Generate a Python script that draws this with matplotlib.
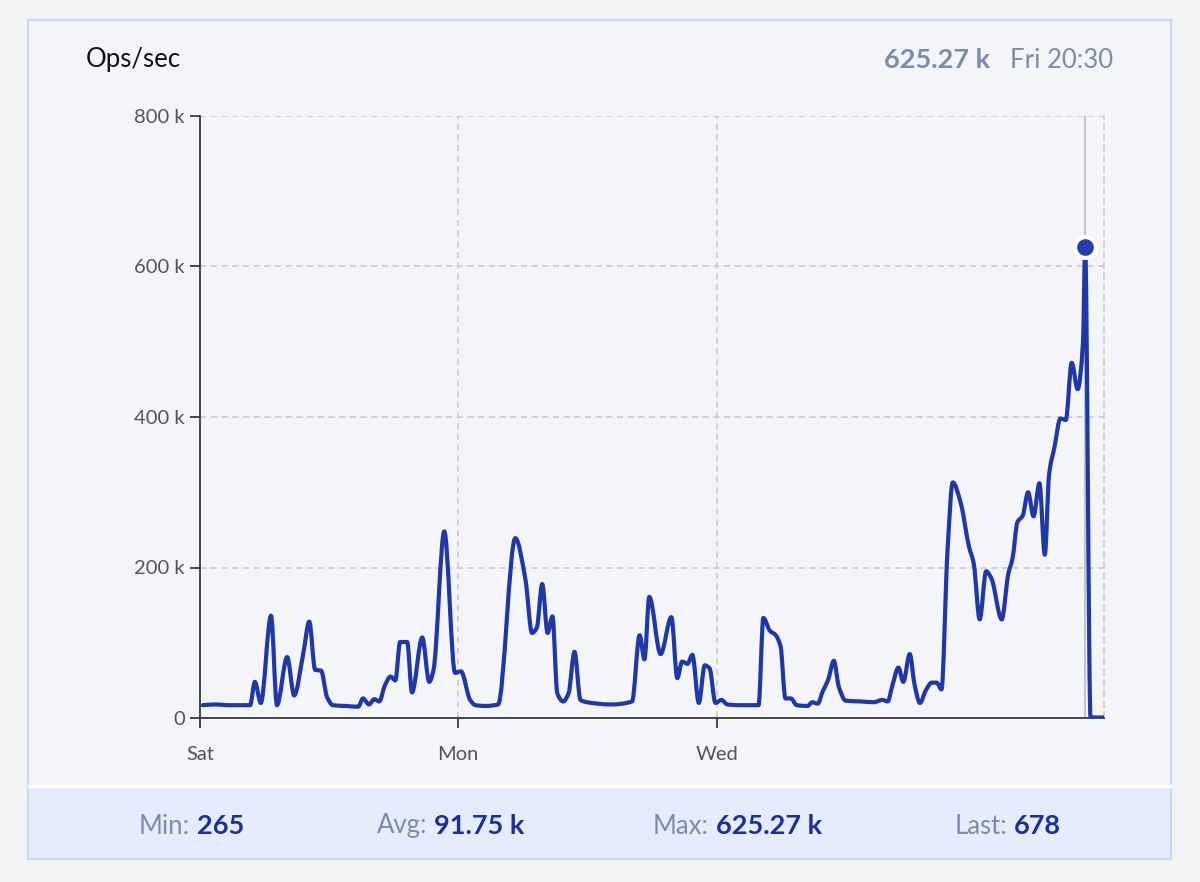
import matplotlib
matplotlib.use("Agg")
import numpy as np
import matplotlib.pyplot as plt
from matplotlib.patches import Rectangle, PathPatch
from matplotlib.lines import Line2D
from matplotlib.path import Path

# hours since Sat 00:00, values in thousands of ops/sec
hours = [0.5, 2.8, 5.6, 9.3, 10.2, 11.3, 13.2, 14.3, 16.2, 17.5, 19.2, 20.3, 21.4, 22.5,
         23.6, 24.7, 27.0, 29.4, 30.3, 31.4, 32.4, 33.3, 34.4, 35.4, 36.3, 37.2, 38.5,
         39.4, 41.3, 42.6, 43.4, 45.4, 47.4, 48.5, 50.2, 51.2, 53.2, 55.4, 58.6, 60.5,
         61.7, 62.6, 63.6, 64.6, 65.5, 66.4, 67.5, 68.5, 69.6, 70.7, 71.9, 76.3, 80.3,
         81.7, 82.6, 83.5, 85.6, 87.6, 88.7, 89.6, 90.6, 91.5, 92.7, 93.8, 94.7, 95.8,
         96.9, 98.0, 100.5, 103.8, 104.7, 105.9, 107.0, 107.9, 108.8, 109.8, 110.9,
         112.9, 113.8, 114.8, 115.7, 116.7, 117.8, 118.7, 120.0, 122.8, 125.2, 126.8,
         127.8, 128.7, 129.8, 130.7, 131.9, 132.8, 133.8, 134.9, 136.0, 136.9, 137.8,
         138.9, 139.9, 141.4, 142.9, 143.8, 144.9, 146.1, 147.1, 149.0, 150.2, 151.0,
         151.9, 152.9, 153.9, 154.9, 156.0, 157.0, 157.8, 158.8, 159.9, 160.9, 162.0,
         163.1, 164.1, 164.5, 165.5, 168.0]
ops_k = [17, 18, 17, 17, 48, 20, 136, 17, 81, 30, 86, 128, 64, 63,
         28, 17, 16, 15, 26, 18, 25, 22, 44, 55, 50, 101, 101,
         34, 107, 48, 64, 248, 60, 62, 24, 17, 16, 18, 239, 183,
         113, 120, 178, 113, 135, 33, 22, 33, 88, 24, 21, 18, 22,
         110, 78, 161, 85, 134, 53, 75, 72, 84, 20, 70, 66, 20,
         24, 18, 17, 17, 133, 116, 110, 95, 26, 26, 17,
         16, 21, 19, 35, 50, 76, 42, 23, 22, 21, 24,
         22, 44, 67, 48, 85, 44, 20, 37, 47, 47, 38,
         220, 313, 285, 228, 205, 131, 195, 185, 131, 191, 212,
         260, 269, 300, 268, 312, 217, 324, 360, 398, 396, 472,
         437, 500, 625.27, 0.68, 0.68]

peak_hour = 164.5
peak_value = 625.27

y_ticks = [0, 200, 400, 600, 800]
y_labels = ["0", "200 k", "400 k", "600 k", "800 k"]
x_ticks = [0, 48, 96]
x_labels = ["Sat", "Mon", "Wed"]

stats = [("Min:", "265"), ("Avg:", "91.75 k"), ("Max:", "625.27 k"), ("Last:", "678")]

W, H = 1200, 882
FONT = ["Lato", "DejaVu Sans"]
LINE = "#1f37a8"
MUTED = "#7c8dab"
DARK = "#1c2f9c"


def fx(x):
    return x / W


def fy(y):
    return 1 - y / H


def monotone_path(xs, ys):
    # monotone cubic (Fritsch-Carlson) drawn as bezier segments through the data points
    x = np.asarray(xs, float)
    y = np.asarray(ys, float)
    dx = np.diff(x)
    d = np.diff(y) / dx
    m = np.zeros_like(y)
    m[0], m[-1] = d[0], d[-1]
    for i in range(1, len(y) - 1):
        if d[i - 1] * d[i] <= 0:
            m[i] = 0
        else:
            w1 = 2 * dx[i] + dx[i - 1]
            w2 = dx[i] + 2 * dx[i - 1]
            m[i] = (w1 + w2) / (w1 / d[i - 1] + w2 / d[i])
    verts = [(x[0], y[0])]
    codes = [Path.MOVETO]
    for i in range(len(x) - 1):
        h = dx[i] / 3
        verts += [(x[i] + h, y[i] + m[i] * h), (x[i + 1] - h, y[i + 1] - m[i + 1] * h), (x[i + 1], y[i + 1])]
        codes += [Path.CURVE4] * 3
    return Path(verts, codes)


fig = plt.figure(figsize=(12, 8.82), dpi=100)
fig.patch.set_facecolor("#f2f3f5")

# card + footer
fig.patches.append(Rectangle((fx(28), fy(859)), fx(1171) - fx(28), fy(20) - fy(859),
                             transform=fig.transFigure, fc="#f4f5f8", ec="#c9d8f5", lw=1.5, zorder=-10))
fig.patches.append(Rectangle((fx(29), fy(858)), fx(1170) - fx(29), fy(787) - fy(858),
                             transform=fig.transFigure, fc="#e5edfc", ec="none", zorder=-9))
fig.lines.append(Line2D([fx(29), fx(1170)], [fy(785.5), fy(785.5)], transform=fig.transFigure,
                        color="white", lw=2.5, zorder=-8))

ax = fig.add_axes([fx(200), fy(718), fx(1104) - fx(200), fy(116) - fy(718)])
ax.set_zorder(5)
ax.set_facecolor("none")

ax.add_patch(PathPatch(monotone_path(hours, ops_k), fc="none", ec=LINE, lw=3.0,
                       joinstyle="round", capstyle="round", zorder=3))
ax.axvline(peak_hour, color="#c4c4c4", lw=1.5, zorder=2)
ax.plot([peak_hour], [peak_value], "o", ms=15, mfc="#2540ae", mec="white", mew=3,
        zorder=5, clip_on=False)

ax.set_xlim(0, 168)
ax.set_ylim(0, 800)
ax.set_yticks(y_ticks)
ax.set_yticklabels(y_labels)
ax.set_xticks(x_ticks)
ax.set_xticklabels(x_labels, ha="center")
ax.grid(color="#c8c8c8", ls=(0, (4, 3)), lw=1.1)
ax.set_axisbelow(True)

for s in ["left", "bottom"]:
    ax.spines[s].set_color("#3a3a3a")
    ax.spines[s].set_linewidth(1.3)
ax.spines["top"].set_visible(False)
ax.spines["right"].set_color("#c8c8c8")
ax.spines["right"].set_linestyle((0, (4, 3)))
ax.spines["right"].set_linewidth(1.1)

ax.tick_params(axis="both", direction="out", length=7, width=1.3, color="#3a3a3a",
               labelsize=14.5, labelcolor="#555555")
ax.tick_params(axis="x", pad=13)
ax.tick_params(axis="y", pad=4)
for lab in ax.get_xticklabels() + ax.get_yticklabels():
    lab.set_family(FONT)

# header
fig.text(fx(86), fy(60), "Ops/sec", family=FONT, fontsize=18.5, color="#111111", va="center", ha="left")
fig.text(fx(1113), fy(60), "Fri 20:30", family=FONT, fontsize=18.5, color=MUTED, va="center", ha="right")
fig.text(fx(990), fy(60), "625.27 k", family=FONT, fontsize=19.5, color=MUTED, va="center", ha="right",
         fontweight="bold")

# footer stats
label_ends = [190, 427, 709, 1007]
for (lab, val), xe in zip(stats, label_ends):
    fig.text(fx(xe), fy(826), lab, family=FONT, fontsize=18.5, color=MUTED, va="center", ha="right")
    fig.text(fx(xe + 7), fy(826), val, family=FONT, fontsize=19.5, color=DARK, va="center", ha="left",
             fontweight="bold")

fig.savefig("out.png", dpi=100, facecolor=fig.get_facecolor())
